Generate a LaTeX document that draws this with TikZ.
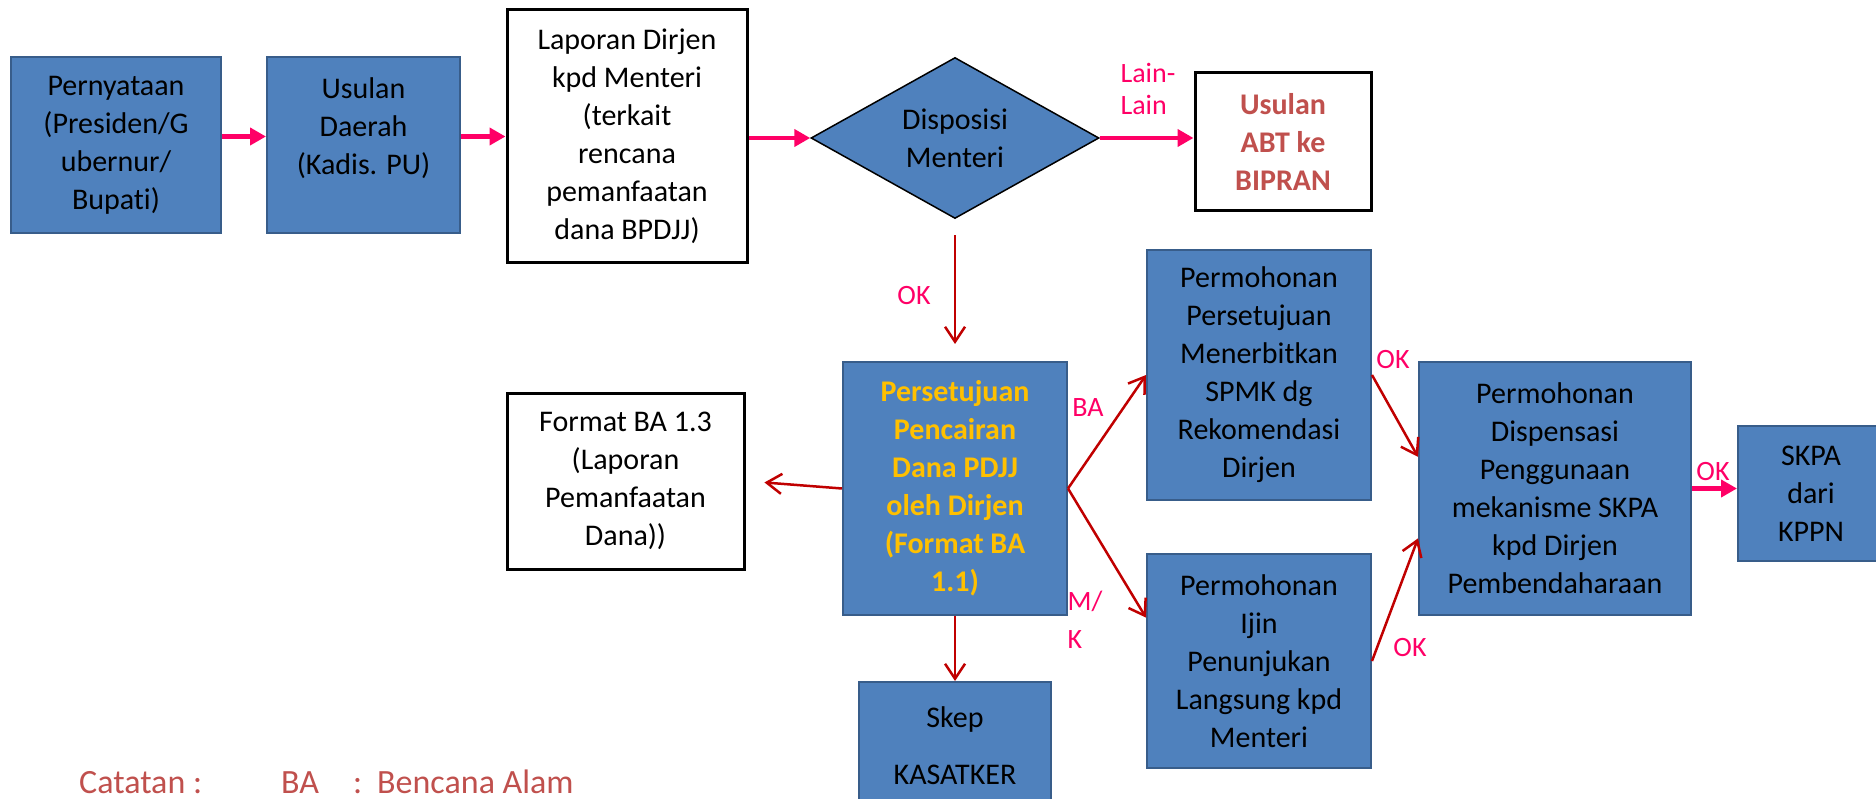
\documentclass[tikz,border=0pt]{standalone}
\usepackage{fontspec}
\setmainfont{Carlito}[Ligatures=NoCommon]
\usetikzlibrary{arrows.meta,shapes.geometric}
\definecolor{boxblue}{HTML}{4F81BD}
\definecolor{boxedge}{HTML}{385D8A}
\definecolor{flowpink}{HTML}{FF0066}
\definecolor{flowred}{HTML}{C00000}
\definecolor{okyellow}{HTML}{FFC000}
\definecolor{notered}{HTML}{C0504D}

\begin{document}
\begin{tikzpicture}[x=1pt,y=1pt,yscale=-1,xscale=1,
  bluebox/.style={draw=boxedge,line width=2pt,fill=boxblue,align=center,inner sep=0pt,font=\fontsize{30}{38}\selectfont},
  whitebox/.style={draw=black,line width=3pt,fill=white,align=center,inner sep=0pt,font=\fontsize{30}{38}\selectfont},
  pinkarrow/.style={draw=flowpink,line width=4.5pt,-{Triangle[length=16pt,width=17pt]}},
  redarrow/.style={draw=flowred,line width=2.5pt,-{Straight Barb[length=15pt,width=20pt]}},
  flowlabel/.style={text=flowpink,align=left,inner sep=0pt,font=\fontsize{28}{32}\selectfont}]
\clip (0,0) rectangle (1876,799);

% Top row
\node[bluebox,minimum width=210pt,minimum height=176pt] (pernyataan) at (116,145) {Pernyataan\\(Presiden/G\\ubernur/\\Bupati)};
\node[bluebox,minimum width=193pt,minimum height=176pt] (usulan) at (363.5,145) {Usulan\\Daerah\\(Kadis. PU)\\\mbox{}};
\node[whitebox,minimum width=240pt,minimum height=253pt] (laporan) at (627,136.5) {Laporan Dirjen\\kpd Menteri\\(terkait\\rencana\\pemanfaatan\\dana BPDJJ)};
\node[diamond,draw=black,line width=1.5pt,fill=boxblue,align=center,inner sep=0pt,shape aspect=1.79,
  minimum width=288pt,minimum height=161pt,font=\fontsize{30}{38}\selectfont] (dispos) at (955,138) {Disposisi\\Menteri};
\node[whitebox,minimum width=176pt,minimum height=138pt,text=notered,font=\fontsize{30}{38}\selectfont\bfseries] (abt) at (1283,142) {Usulan\\ABT ke\\BIPRAN};

% Middle
\node[bluebox,minimum width=224pt,minimum height=253pt,text=okyellow,font=\fontsize{30}{38}\selectfont\bfseries] (setuju) at (955,488.5) {Persetujuan\\Pencairan\\Dana PDJJ\\oleh Dirjen\\(Format BA\\1.1)};
\node[whitebox,minimum width=237pt,minimum height=176pt] (format) at (625.5,481) {Format BA 1.3\\(Laporan\\Pemanfaatan\\Dana))};
\node[bluebox,minimum width=192pt,minimum height=128pt] (skep) at (955,746) {Skep\\[19pt]KASATKER};
\node[bluebox,minimum width=224pt,minimum height=250pt] (mohonsetuju) at (1259,375) {Permohonan\\Persetujuan\\Menerbitkan\\SPMK dg\\Rekomendasi\\Dirjen};
\node[bluebox,minimum width=224pt,minimum height=214pt] (mohonijin) at (1259,661) {Permohonan\\Ijin\\Penunjukan\\Langsung kpd\\Menteri};
\node[bluebox,minimum width=272pt,minimum height=253pt] (dispensasi) at (1555,488.5) {Permohonan\\Dispensasi\\Penggunaan\\mekanisme SKPA\\kpd Dirjen\\Pembendaharaan};
\node[bluebox,minimum width=146pt,minimum height=135pt] (skpa) at (1811,493.5) {SKPA\\dari\\KPPN};

% Arrows
\draw[pinkarrow] (pernyataan.east |- laporan.west) -- (usulan.west |- laporan.west);
\draw[pinkarrow] (usulan.east |- laporan.west) -- (laporan.west);
\draw[pinkarrow] (laporan.east |- dispos.west) -- (dispos.west);
\draw[pinkarrow] (dispos.east) -- (abt.west |- dispos.east);
\draw[redarrow,shorten <=16pt,shorten >=17pt] (dispos.south) -- (setuju.north);
\draw[redarrow,shorten >=19pt] (setuju.west) -- (format.east);
\draw[redarrow] (setuju.south) -- (skep.north);
\draw[redarrow] (setuju.east) -- (mohonsetuju.west);
\draw[redarrow] (setuju.east) -- (mohonijin.159);
\draw[redarrow] (mohonsetuju.east) -- (dispensasi.167);
\draw[redarrow] (mohonijin.east) -- (dispensasi.200.6);
\draw[pinkarrow] (dispensasi.east) -- (skpa.west |- dispensasi.east);

% Labels
\node[flowlabel] (lain) at (1148,89) {Lain-\\Lain};
\node[flowlabel] (okturun) at (914,296) {OK};
\node[flowlabel] (ba) at (1088,408) {BA};
\node[flowlabel,font=\fontsize{28}{38}\selectfont] (mk) at (1085,620) {M/\\K};
\node[flowlabel] (okatas) at (1393,360) {OK};
\node[flowlabel] (okbawah) at (1410,648) {OK};
\node[flowlabel] (okskpa) at (1713,472) {OK};

% Catatan
\node[anchor=base west,inner sep=0pt,text=notered,font=\fontsize{34}{40}\selectfont] (catatan) at (79,793)
  {\makebox[202pt][l]{Catatan :}\makebox[72pt][l]{BA}\makebox[24pt][l]{:}Bencana Alam};

\end{tikzpicture}
\end{document}
